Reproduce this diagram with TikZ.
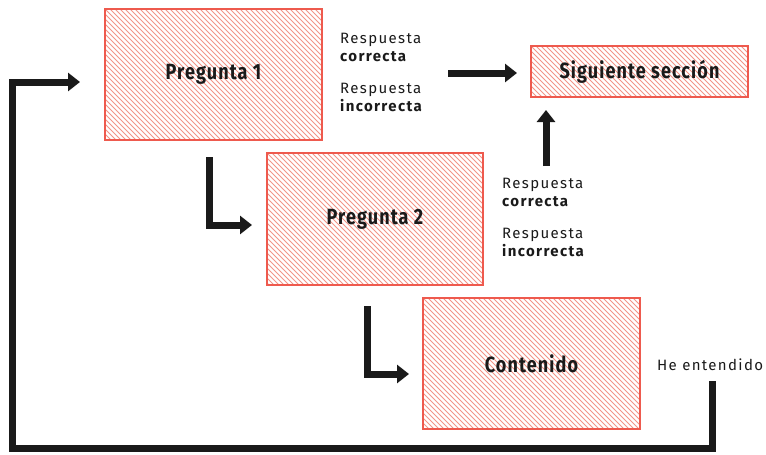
\documentclass[tikz,border=0pt]{standalone}
\usepackage{fontspec}
\setmainfont{Fira Sans}[LetterSpace=9]
\newfontfamily\condfont{Fira Sans}[FakeStretch=0.82,LetterSpace=5]
\usetikzlibrary{arrows.meta,calc,backgrounds}
\definecolor{boxred}{HTML}{EE5A4E}
\definecolor{hatchred}{HTML}{F29488}
\definecolor{ink}{HTML}{1A1A1A}
\tikzset{
  box/.style={draw=boxred, line width=1.5pt, inner sep=0pt, text=ink,
              font=\condfont\bfseries\fontsize{22}{24}\selectfont},
  hatchline/.style={draw=hatchred, line width=0.9pt},
  flow/.style={draw=ink, line width=7pt, miter limit=10,
               -{Triangle[length=12pt,width=18pt]}},
  lbl/.style={text=ink, anchor=west, inner sep=0pt, align=left,
              font=\fontsize{15}{18}\selectfont},
}
\newcommand{\hatchfill}[1]{%
  \begin{pgfonlayer}{background}
  \begin{scope}
    \clip (#1.north west) rectangle (#1.south east);
    \foreach \i in {-140,-135,...,225}
      \draw[hatchline] ($(#1.north west)+(\i,0)$) -- ++(150,150);
  \end{scope}
  \end{pgfonlayer}}
\begin{document}
\begin{tikzpicture}[x=1pt,y=-1pt]
\useasboundingbox (0,0) rectangle (766,455);
% boxes
\node[box, minimum width=217pt, minimum height=131pt] (p1) at (213.5,74.5) {Pregunta 1};
\node[box, minimum width=217pt, minimum height=51pt] (ss) at (639.5,71.5) {Siguiente sección};
\node[box, minimum width=216pt, minimum height=132pt] (p2) at (375,219) {Pregunta 2};
\node[box, minimum width=217pt, minimum height=131pt] (ct) at (531.5,363.5) {Contenido};
\hatchfill{p1}
\hatchfill{ss}
\hatchfill{p2}
\hatchfill{ct}
% labels
\node[lbl] (l1) at (340,47) {Respuesta\\\textbf{correcta}};
\node[lbl] (l2) at (340,97) {Respuesta\\\textbf{incorrecta}};
\node[lbl] (l3) at (502,192) {Respuesta\\\textbf{correcta}};
\node[lbl] (l4) at (502,242) {Respuesta\\\textbf{incorrecta}};
\node[lbl] (l5) at (657,365) {He entendido};
% connector end points
\coordinate (a1s) at (448,73);
\coordinate (a1e) at (517,73);
\coordinate (a2s) at (546,166);
\coordinate (a2e) at (546,110);
\coordinate (a3s) at (209,157);
\coordinate (a3e) at (252,225);
\coordinate (a4s) at (367,306);
\coordinate (a4e) at (409,374);
\coordinate (a5s) at (712,381);
\coordinate (a5b) at (712,448);
\coordinate (a5c) at (12,448);
\coordinate (a5e) at (80,82);
% connectors
\draw[flow] (a1s) -- (a1e);
\draw[flow] (a2s) -- (a2e);
\draw[flow] (a3s) |- (a3e);
\draw[flow] (a4s) |- (a4e);
\draw[flow] (a5s) -- (a5b) -- (a5c) |- (a5e);
\end{tikzpicture}
\end{document}
